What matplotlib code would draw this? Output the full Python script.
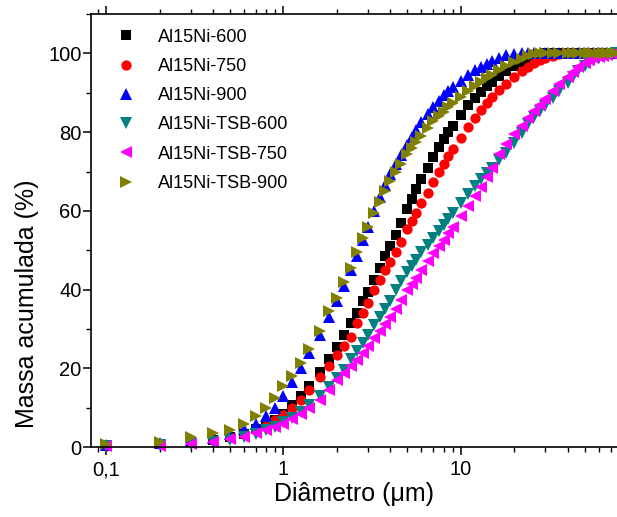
import numpy as np
import matplotlib
matplotlib.use('Agg')
import matplotlib.pyplot as plt
from matplotlib.ticker import FixedLocator, FixedFormatter, LogLocator, NullFormatter, MultipleLocator

plt.rcParams['font.family'] = ['Liberation Sans', 'DejaVu Sans']

# particle diameter classes (um)
diam = [0.1, 0.2, 0.3, 0.4, 0.5, 0.6, 0.7, 0.8, 0.9,
        1.0, 1.12, 1.25, 1.4, 1.6, 1.8, 2.0, 2.2, 2.4, 2.6, 2.8,
        3.0, 3.25, 3.5, 3.75, 4.0, 4.3, 4.6, 5.0, 5.3, 5.6, 6.0, 6.5, 7.0, 7.5, 8.0, 8.5, 9.0,
        10, 11, 12, 13, 14, 15, 16.5, 18, 20, 22, 24, 26, 28, 30, 33, 36, 40, 43, 46, 50,
        53, 56, 60, 63, 67, 71, 75]

# cumulative mass (%)
al600 = [0.3, 0.8, 1.3, 1.8, 2.5, 3.4, 4.5, 5.7, 7.0,
         8.5, 10.8, 13.0, 15.5, 19.0, 22.5, 25.5, 28.5, 31.5, 34.0, 37.0,
         39.5, 42.5, 45.5, 48.5, 51.0, 54.0, 57.0, 60.5, 63.0, 65.5, 68.0, 71.0, 73.8, 76.3, 78.3, 80.0, 81.5,
         84.3, 86.8, 88.7, 90.2, 91.6, 92.8, 94.2, 95.5, 96.8, 97.8, 98.6, 99.2, 99.6, 100, 100, 100, 100, 100, 100, 100,
         100, 100, 100, 100, 100, 100, 100]
al750 = [0.3, 0.8, 1.3, 1.9, 2.6, 3.5, 4.4, 5.5, 6.8,
         8.3, 10.0, 12.0, 14.5, 17.7, 20.6, 23.3, 25.7, 28.0, 31.5, 34.0,
         36.5, 40.0, 42.5, 45.0, 47.0, 49.5, 52.0, 55.5, 57.5, 59.5, 62.0, 64.5, 67.3, 69.8, 72.0, 74.0, 75.8,
         78.5, 81.2, 83.5, 85.5, 87.3, 88.8, 90.6, 92.2, 94.0, 95.5, 96.6, 97.5, 98.2, 98.8, 99.4, 99.8, 100, 100, 100, 100,
         100, 100, 100, 100, 100, 100, 100]
al900 = [0.5, 1.0, 1.8, 2.4, 3.3, 4.5, 6.0, 7.8, 10.0,
         13.0, 16.5, 20.0, 24.0, 28.5, 33.0, 37.0, 41.0, 45.0, 48.5, 52.5,
         56.0, 60.0, 63.5, 66.5, 69.3, 72.0, 74.3, 76.8, 78.8, 80.6, 82.6, 84.7, 86.5, 88.0, 89.3, 90.4, 91.4,
         93.0, 94.5, 95.7, 96.6, 97.4, 98.1, 98.9, 99.5, 99.9, 100, 100, 100, 100, 100, 100, 100, 100, 100, 100, 100,
         100, 100, 100, 100, 100, 100, 100]
tsb600 = [0.2, 0.5, 0.9, 1.3, 1.9, 2.6, 3.4, 4.3, 5.2,
          6.3, 7.5, 9.0, 10.7, 13.0, 15.3, 17.5, 19.5, 22.5, 24.5, 26.5,
          28.5, 31.0, 33.0, 35.0, 37.0, 40.0, 42.3, 44.5, 46.0, 47.5, 49.5, 51.3, 53.0, 54.8, 56.3, 58.0, 59.5,
          62.0, 64.3, 66.3, 68.0, 69.5, 71.0, 73.0, 74.8, 77.3, 79.7, 82.0, 83.8, 85.3, 86.7, 88.6, 90.4, 92.5, 94.0, 95.4, 96.8,
          97.6, 98.3, 98.9, 99.3, 99.6, 99.8, 100]
tsb750 = [0.2, 0.4, 0.8, 1.4, 2.0, 2.7, 3.5, 4.3, 5.1,
          6.0, 7.2, 8.5, 10.0, 12.0, 14.5, 17.0, 18.8, 20.5, 22.2, 24.0,
          25.8, 27.8, 29.6, 31.3, 33.0, 35.2, 37.3, 40.0, 41.5, 43.0, 45.0, 47.3, 49.3, 51.0, 52.7, 54.3, 55.8,
          58.7, 61.3, 63.7, 66.0, 68.5, 71.0, 74.5, 77.0, 79.5, 81.5, 83.5, 85.3, 87.0, 88.5, 90.5, 92.2, 94.0, 95.3, 96.6, 97.6,
          98.2, 98.7, 99.1, 99.4, 99.7, 99.9, 100]
tsb900 = [0.7, 1.4, 2.5, 3.5, 4.4, 6.0, 8.0, 10.0, 12.5,
          15.5, 18.0, 21.5, 25.0, 29.5, 34.5, 38.0, 42.0, 45.5, 49.5, 53.0,
          56.0, 59.5, 62.3, 65.0, 67.5, 70.0, 72.0, 74.5, 76.0, 77.5, 79.0, 81.0, 82.7, 84.0, 85.2, 86.3, 87.3,
          89.0, 90.5, 91.7, 92.8, 93.8, 94.6, 95.7, 96.7, 97.7, 98.5, 99.2, 99.8, 100, 100, 100, 100, 100, 100, 100, 100,
          100, 100, 100, 100, 100, 100, 100]

series = [
    ('Al15Ni-600', al600, 's', 'black', 6.6),
    ('Al15Ni-750', al750, 'o', 'red', 7.4),
    ('Al15Ni-900', al900, '^', 'blue', 8.0),
    ('Al15Ni-TSB-600', tsb600, 'v', '#008080', 8.0),
    ('Al15Ni-TSB-750', tsb750, '<', 'magenta', 8.0),
    ('Al15Ni-TSB-900', tsb900, '>', '#808000', 8.0),
]

fig = plt.figure(figsize=(6.17, 5.17), dpi=100)
ax = fig.add_axes([0.148, 0.135, 0.852, 0.838])

for name, vals, mk, col, ms in series:
    ax.plot(diam, vals, linestyle='none', marker=mk, color=col,
            markersize=ms, markeredgewidth=0, label=name, clip_on=False)

ax.set_xscale('log')
ax.set_xlim(0.0825, 76)
ax.set_ylim(0, 110)

ax.xaxis.set_major_locator(FixedLocator([0.1, 1, 10]))
ax.xaxis.set_major_formatter(FixedFormatter(['0,1', '1', '10']))
ax.xaxis.set_minor_locator(LogLocator(base=10, subs=np.arange(2, 10)))
ax.xaxis.set_minor_formatter(NullFormatter())
ax.yaxis.set_major_locator(MultipleLocator(20))
ax.yaxis.set_minor_locator(MultipleLocator(10))

ax.tick_params(which='major', direction='out', length=6, width=1.1, labelsize=14.5)
ax.tick_params(which='minor', direction='out', length=3.5, width=1.0)
ax.tick_params(axis='y', which='major', pad=1)
ax.tick_params(axis='x', which='both', top=True)
ax.spines['right'].set_visible(False)
for s in ['left', 'bottom', 'top']:
    ax.spines[s].set_linewidth(1.2)

ax.set_xlabel('Diâmetro (μm)', fontsize=18, labelpad=2)
ax.set_ylabel('Massa acumulada (%)', fontsize=18)
# axis title sits low on the axis, as in the original figure
ax.yaxis.set_label_coords(-0.099, 0.33)

ax.legend(loc='upper left', frameon=False, fontsize=13, handletextpad=0.78,
          labelspacing=0.68, borderaxespad=0.6, bbox_to_anchor=(-0.003, 1.008))

plt.savefig('out.png', dpi=100)
